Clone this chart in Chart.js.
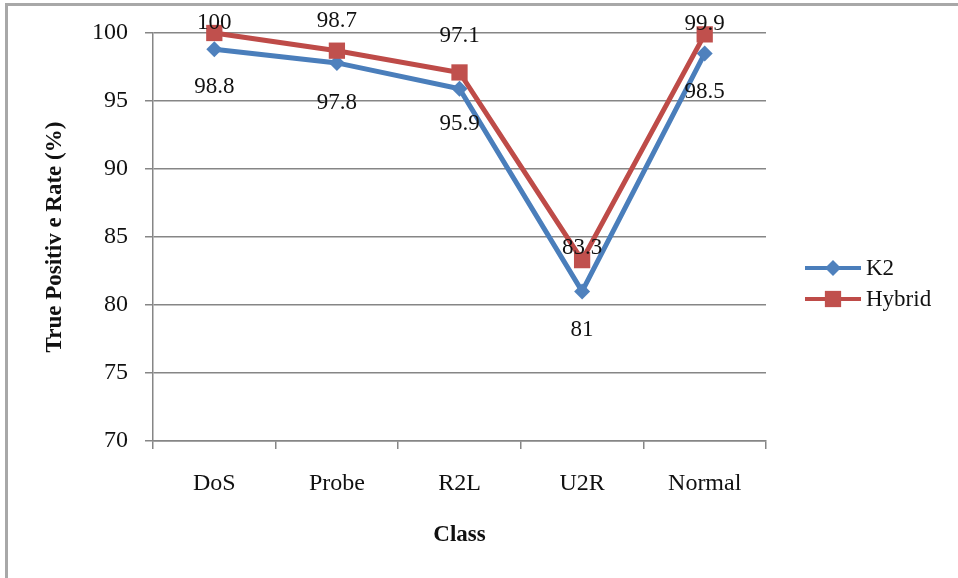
<!DOCTYPE html>
<html>
<head>
<meta charset="utf-8">
<title>True Positive Rate by Class</title>
<script src="https://cdn.jsdelivr.net/npm/chart.js@4.4.1/dist/chart.umd.min.js"></script>
<style>
  body { margin: 0; background: #fff; }
  #wrap { position: relative; width: 958px; height: 578px; }
  #frame {
    position: absolute; left: 5px; top: 3px; right: 0; bottom: 0;
    border-top: 3px solid #a8a8a8; border-left: 3px solid #a8a8a8;
    pointer-events: none;
  }
</style>
</head>
<body>
<div id="wrap">
  <canvas id="tprChart" width="958" height="578"></canvas>
  <div id="frame"></div>
</div>
<script>
const classes = ['DoS', 'Probe', 'R2L', 'U2R', 'Normal'];
const k2Rate = [98.8, 97.8, 95.9, 81, 98.5];
const hybridRate = [100, 98.7, 97.1, 83.3, 99.9];
const yMin = 70, yMax = 100, yStep = 5;

// vertical nudge (px) of each value label from its point
const labelShift = {
  K2: [38, 40, 35, 39, 39],
  Hybrid: [-10, -30, -36, -12, -10]
};

const serif = '"Liberation Serif", "Times New Roman", serif';
const gridGray = '#868686';

const valueLabels = {
  id: 'valueLabels',
  afterDatasetsDraw(chart) {
    const ctx = chart.ctx;
    ctx.save();
    ctx.font = '23px ' + serif;
    ctx.fillStyle = '#111';
    ctx.textAlign = 'center';
    ctx.textBaseline = 'middle';
    chart.data.datasets.forEach((ds, i) => {
      const meta = chart.getDatasetMeta(i);
      const shifts = labelShift[ds.label];
      meta.data.forEach((pt, j) => {
        ctx.fillText(String(ds.data[j]), pt.x, pt.y + shifts[j]);
      });
    });
    ctx.restore();
  }
};

function marker(ctx, style, r, x, y) {
  ctx.beginPath();
  if (style === 'rectRot') {
    ctx.moveTo(x - r, y); ctx.lineTo(x, y - r); ctx.lineTo(x + r, y); ctx.lineTo(x, y + r);
  } else {
    const s = r * Math.SQRT1_2;
    ctx.rect(x - s, y - s, 2 * s, 2 * s);
  }
  ctx.closePath();
  ctx.fill();
}

const sideLegend = {
  id: 'sideLegend',
  afterDraw(chart) {
    const ctx = chart.ctx;
    const x0 = chart.chartArea.right + 39;
    ctx.save();
    chart.data.datasets.forEach((ds, i) => {
      const y = 268 + i * 31;
      ctx.strokeStyle = ds.borderColor;
      ctx.lineWidth = 4;
      ctx.beginPath(); ctx.moveTo(x0, y); ctx.lineTo(x0 + 56, y); ctx.stroke();
      ctx.fillStyle = ds.pointBackgroundColor;
      marker(ctx, ds.pointStyle, ds.pointRadius, x0 + 28, y);
      ctx.fillStyle = '#111';
      ctx.font = '23px ' + serif;
      ctx.textBaseline = 'middle';
      ctx.fillText(ds.label, x0 + 61, y + 1);
    });
    ctx.restore();
  }
};

const ctx = document.getElementById('tprChart');

new Chart(ctx, {
  type: 'line',
  data: {
    labels: classes,
    datasets: [{
      label: 'K2',
      data: k2Rate,
      borderColor: '#4A7EBB',
      pointBackgroundColor: '#4F81BD',
      pointBorderColor: '#4F81BD',
      pointStyle: 'rectRot',
      pointRadius: 8,
      pointBorderWidth: 0,
      borderWidth: 5,
      clip: false,
      order: 2
    }, {
      label: 'Hybrid',
      data: hybridRate,
      borderColor: '#BE4B48',
      pointBackgroundColor: '#C0504D',
      pointBorderColor: '#C0504D',
      pointStyle: 'rect',
      pointRadius: 11.5,
      pointBorderWidth: 0,
      borderWidth: 5,
      clip: false,
      order: 1
    }]
  },
  options: {
    responsive: false,
    animation: false,
    layout: { padding: { left: 0, right: 192, top: 33, bottom: 0 } },
    plugins: { legend: { display: false }, tooltip: { enabled: false } },
    scales: {
      x: {
        offset: true,
        grid: { offset: true, drawOnChartArea: false, tickLength: 8, color: gridGray, lineWidth: 1.5 },
        border: { color: gridGray, width: 1.5 },
        ticks: { color: '#111', padding: 20, font: { family: serif, size: 24 } },
        title: {
          display: true, text: 'Class', color: '#111',
          font: { family: serif, size: 23, weight: 'bold' },
          padding: { top: 0, bottom: 29 }
        },
        afterFit(s) { s.height = 137; }
      },
      y: {
        min: yMin,
        max: yMax,
        ticks: { stepSize: yStep, color: '#111', padding: 17, font: { family: serif, size: 24 } },
        grid: { color: gridGray, lineWidth: 1.5, tickLength: 8 },
        border: { color: gridGray, width: 1.5 },
        title: {
          display: true, text: 'True Positiv e Rate (%)', color: '#111',
          font: { family: serif, size: 23, weight: 'bold' },
          padding: { top: 41, bottom: 0 }
        },
        afterFit(s) { s.width = 153; }
      }
    }
  },
  plugins: [valueLabels, sideLegend]
});
</script>
</body>
</html>
